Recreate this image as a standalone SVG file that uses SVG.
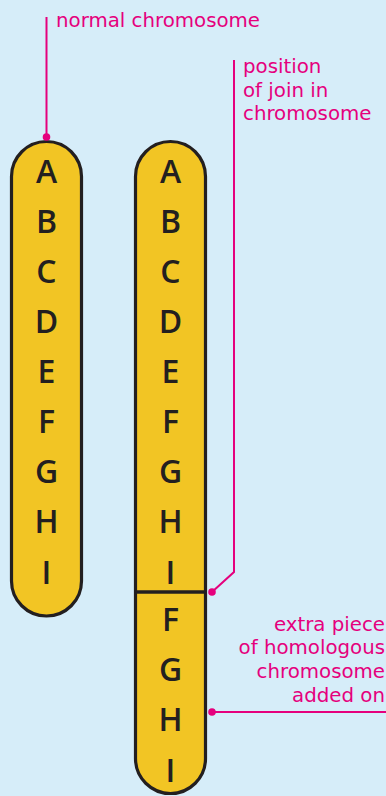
<svg xmlns="http://www.w3.org/2000/svg" width="386" height="796" viewBox="0 0 386 796">
<style>
.chrom{fill:#F2C524;stroke:#231F20;stroke-width:3.2}
.band{fill:none;stroke:#231F20;stroke-width:3.5}
.let{font-family:"Open Sans","DejaVu Sans",sans-serif;font-weight:600;font-size:32px;fill:#231F20;text-anchor:middle}
.lbl{font-family:"DejaVu Sans","Liberation Sans",sans-serif;font-size:19.8px;fill:#E5007D}
.lead{fill:none;stroke:#E5007D;stroke-width:2}
.dot{fill:#E5007D}
</style>
<rect width="386" height="796" fill="#D6EDF9"/>
<g id="normal-chromosome">
<rect class="chrom" x="11.5" y="141.5" width="70" height="474.5" rx="35" ry="35"/>
<text class="let" x="46.5" y="183">A</text>
<text class="let" x="46.5" y="233">B</text>
<text class="let" x="46.5" y="283">C</text>
<text class="let" x="46.5" y="333">D</text>
<text class="let" x="46.5" y="383">E</text>
<text class="let" x="46.5" y="433">F</text>
<text class="let" x="46.5" y="483">G</text>
<text class="let" x="46.5" y="533">H</text>
<text class="let" x="46.5" y="584">I</text>
</g>
<g id="abnormal-chromosome">
<rect class="chrom" x="135.5" y="141.5" width="70" height="652" rx="35" ry="35"/>
<line class="band" x1="135.5" y1="592" x2="205.5" y2="592"/>
<text class="let" x="170.5" y="183">A</text>
<text class="let" x="170.5" y="233">B</text>
<text class="let" x="170.5" y="283">C</text>
<text class="let" x="170.5" y="333">D</text>
<text class="let" x="170.5" y="383">E</text>
<text class="let" x="170.5" y="433">F</text>
<text class="let" x="170.5" y="483">G</text>
<text class="let" x="170.5" y="533">H</text>
<text class="let" x="170.5" y="584">I</text>
<text class="let" x="170.5" y="631">F</text>
<text class="let" x="170.5" y="681">G</text>
<text class="let" x="170.5" y="731">H</text>
<text class="let" x="170.5" y="782">I</text>
</g>
<g id="connectors">
<polyline class="lead" points="46.5,17 46.5,137"/>
<circle class="dot" cx="46.5" cy="137" r="3.8"/>
<polyline class="lead" points="234,60 234,572 212,592"/>
<circle class="dot" cx="212" cy="592" r="3.8"/>
<polyline class="lead" points="212,712 386,712"/>
<circle class="dot" cx="212" cy="712" r="3.8"/>
</g>
<g id="label-normal">
<text class="lbl" x="56" y="27">normal chromosome</text>
</g>
<g id="label-join">
<text class="lbl" x="243" y="73">position</text>
<text class="lbl" x="243" y="97">of join in</text>
<text class="lbl" x="243" y="120">chromosome</text>
</g>
<g id="label-extra">
<text class="lbl" x="385" y="631" text-anchor="end">extra piece</text>
<text class="lbl" x="385" y="654" text-anchor="end">of homologous</text>
<text class="lbl" x="385" y="678" text-anchor="end">chromosome</text>
<text class="lbl" x="385" y="702" text-anchor="end">added on</text>
</g>
</svg>
